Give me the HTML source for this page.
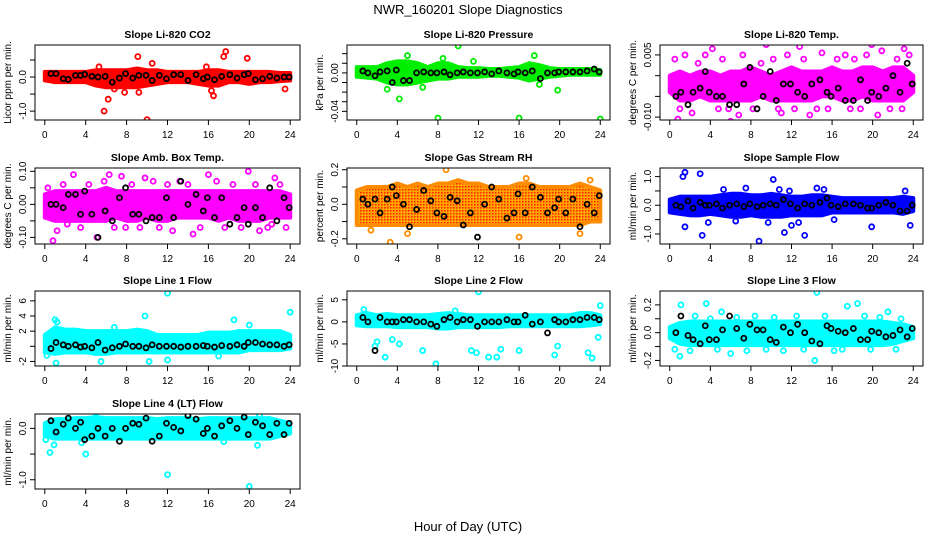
<!DOCTYPE html>
<html><head><meta charset="utf-8"><style>
body{margin:0;background:#fff;}
svg{display:block;font-family:"Liberation Sans",sans-serif;}
</style></head><body>
<svg id="chart" width="936" height="540" viewBox="0 0 936 540" xmlns="http://www.w3.org/2000/svg">
<defs>
<pattern id="rhpat" width="3" height="3" patternUnits="userSpaceOnUse"><rect width="3" height="3" fill="#ffa500"/><rect width="1.5" height="1.5" fill="#ff2000"/></pattern>
</defs>
<text x="468" y="14" text-anchor="middle" font-size="13">NWR_160201  Slope Diagnostics</text>
<text x="468" y="531" text-anchor="middle" font-size="13">Hour of Day (UTC)</text>
</svg>
<script>
const blackHours=[0.6,1.1,1.8,2.3,3.0,3.5,3.9,4.6,5.2,5.9,6.6,7.3,7.9,8.6,9.2,9.9,10.5,11.2,11.9,12.6,13.3,14.0,14.8,15.5,15.9,16.6,17.3,18.1,18.8,19.5,19.9,20.6,21.3,22.0,22.7,23.4,23.9];
const xTicks=[0,4,8,12,16,20,24];

const co2Hi=[0.15,0.15,0.15,0.15,0.15,0.2,0.2,0.2,0.2,0.25,0.2,0.2,0.15,0.15,0.15,0.15,0.2,0.2,0.15,0.15,0.15,0.15,0.15,0.12,0.12];
const co2Lo=[-0.1,-0.15,-0.15,-0.15,-0.15,-0.25,-0.3,-0.3,-0.3,-0.3,-0.25,-0.2,-0.15,-0.15,-0.15,-0.2,-0.25,-0.25,-0.15,-0.15,-0.2,-0.15,-0.15,-0.12,-0.1];
const co2Out=[[5.8,-1.0],[6.2,-0.65],[9.1,0.6],[9.9,1.15],[10.0,-1.25],[9.2,-0.45],[10.5,0.4],[7.8,-0.45],[15.8,0.3],[16.3,-0.4],[16.5,-0.55],[17.5,0.6],[17.7,0.75],[19.8,0.55],[23.5,-0.35],[6.8,-0.35],[5.3,0.3]];
const co2Black=[0.1,0.1,-0.05,-0.07,0.05,0.05,0.08,0.02,0.0,0.02,-0.15,-0.03,0.1,-0.03,0.05,0.05,-0.1,0.05,-0.05,0.07,0.07,-0.1,0.07,-0.05,0.0,-0.08,0.02,0.07,-0.03,0.07,0.1,-0.08,-0.05,0.02,-0.03,0.0,0.0];

const prHi=[0.006,0.006,0.006,0.01,0.012,0.012,0.01,0.006,0.01,0.01,0.006,0.005,0.005,0.004,0.004,0.005,0.006,0.01,0.008,0.005,0.004,0.004,0.004,0.004,0.003];
const prLo=[-0.004,-0.005,-0.006,-0.01,-0.012,-0.012,-0.01,-0.008,-0.006,-0.006,-0.004,-0.004,-0.004,-0.003,-0.003,-0.004,-0.005,-0.008,-0.006,-0.004,-0.003,-0.002,-0.002,-0.002,-0.002];
const prOut=[[10,0.028],[8,-0.047],[16,-0.047],[24,-0.048],[4.2,-0.027],[3,-0.017],[6.5,-0.015],[8.5,0.015],[17.5,0.018],[19.8,-0.018],[5,0.018],[11.5,0.012],[18,-0.012]];
const prBlack=[0.002,0.0,-0.003,0.001,0.002,-0.010,0.003,-0.008,-0.008,0.0,0.001,0.0,0.0,0.001,-0.002,0.0,0.001,0.0,0.0,0.001,-0.001,0.002,0.0,-0.001,0.001,0.0,0.002,-0.006,0.0,0.0,0.001,0.001,0.001,0.001,0.002,0.004,0.001];

const ltHi=[0.0,0.001,0.0,0.001,0.001,0.0,0.001,0.001,0.002,0.001,0.0,0.001,0.002,0.001,0.001,0.001,0.002,0.001,0.001,0.002,0.002,0.001,0.002,0.002,0.0];
const ltLo=[-0.004,-0.006,-0.006,-0.005,-0.006,-0.006,-0.006,-0.006,-0.006,-0.005,-0.006,-0.006,-0.006,-0.006,-0.006,-0.005,-0.005,-0.006,-0.006,-0.005,-0.006,-0.006,-0.006,-0.006,-0.004];
const ltOut=[[0.8,-0.0105],[4.2,0.0065],[6,-0.011],[6.8,-0.0095],[9.5,0.0075],[12.8,0.007],[13.8,-0.0095],[15,0.0055],[19.9,0.0075],[20.5,-0.0095],[23.1,0.0065],[2.2,-0.009],[11,-0.009],[0.5,0.004],[1.5,0.005],[2.8,0.003],[3.5,0.005],[5.2,0.004],[5.8,-0.008],[7.2,0.005],[8.2,-0.008],[9.0,0.003],[10.2,0.004],[11.6,0.005],[12.3,-0.008],[13.2,0.004],[14.5,-0.008],[15.6,-0.008],[16.5,0.004],[17.3,0.005],[18.2,0.004],[18.8,-0.008],[19.4,0.005],[20.9,0.006],[21.7,-0.008],[22.4,0.004],[22.9,-0.008],[23.6,0.005],[1.0,-0.008],[4.8,-0.008],[10.7,-0.008],[17.8,-0.008]];
const ltBlack=[-0.005,-0.004,-0.007,-0.004,-0.003,0.001,-0.004,-0.005,-0.005,-0.007,-0.007,-0.002,0.002,-0.008,-0.005,0.001,-0.006,-0.002,-0.002,-0.004,-0.005,-0.002,-0.001,-0.004,-0.005,-0.003,-0.006,-0.006,-0.001,-0.006,-0.004,-0.005,-0.003,0.0,-0.004,0.003,-0.002];

const abHi=[0.03,0.04,0.04,0.04,0.04,0.04,0.05,0.04,0.04,0.04,0.04,0.04,0.04,0.04,0.04,0.04,0.04,0.04,0.04,0.04,0.04,0.04,0.04,0.04,0.03];
const abLo=[-0.04,-0.05,-0.05,-0.05,-0.05,-0.05,-0.05,-0.04,-0.05,-0.05,-0.04,-0.05,-0.05,-0.04,-0.04,-0.04,-0.04,-0.05,-0.04,-0.05,-0.05,-0.05,-0.04,-0.04,-0.04];
const abOut=[[0.8,-0.11],[1.2,-0.08],[2.8,0.09],[6.3,0.09],[7.5,0.085],[12.5,-0.08],[14.5,-0.09],[16,0.09],[19.9,0.1],[22.5,0.08],[5.1,-0.1],[21,-0.08],[9.8,0.08],[0.3,0.05],[1.8,0.06],[3.5,-0.07],[4.3,0.06],[5.8,0.07],[6.8,-0.07],[8.5,0.06],[9.3,-0.07],[10.6,0.07],[11.2,-0.07],[13.2,0.07],[14.0,0.06],[15.2,-0.07],[16.8,0.07],[17.6,-0.07],[18.4,0.06],[19.2,-0.07],[20.6,0.06],[21.8,-0.07],[23.0,0.06],[23.6,-0.07],[2.2,-0.06],[7.9,-0.07],[12.0,0.06],[22.2,-0.06]];
const abBlack=[0.0,0.0,-0.01,0.03,0.03,-0.03,0.04,-0.03,-0.1,-0.02,-0.05,0.02,0.05,-0.03,-0.03,-0.05,-0.04,-0.04,0.02,-0.04,0.07,0.0,0.03,-0.02,0.02,-0.04,0.02,-0.06,-0.04,-0.01,-0.06,-0.01,-0.04,0.05,-0.05,0.02,-0.01];

const rhHi=[0.08,0.1,0.1,0.1,0.12,0.1,0.12,0.1,0.12,0.12,0.14,0.12,0.12,0.1,0.1,0.1,0.12,0.12,0.1,0.1,0.1,0.1,0.12,0.1,0.08];
const rhLo=[-0.12,-0.12,-0.12,-0.12,-0.12,-0.12,-0.12,-0.12,-0.12,-0.12,-0.12,-0.12,-0.12,-0.12,-0.12,-0.12,-0.12,-0.12,-0.12,-0.12,-0.12,-0.12,-0.12,-0.1,-0.1];
const rhOut=[[3.3,-0.22],[8.8,0.2],[16,-0.19],[22,-0.17],[16.7,0.15],[5,-0.17],[1.4,-0.15],[23,0.14]];
const rhBlack=[0.03,0.0,0.03,-0.05,0.03,0.1,0.05,0.0,-0.13,-0.03,0.08,0.02,-0.05,-0.07,0.04,0.02,-0.12,-0.05,-0.19,0.0,0.1,0.03,-0.08,-0.05,0.06,-0.05,0.1,0.04,-0.05,-0.02,0.03,-0.05,0.03,-0.13,0.0,-0.05,0.05];

const sfHi=[0.2,0.3,0.3,0.3,0.3,0.35,0.4,0.4,0.35,0.35,0.4,0.35,0.3,0.3,0.35,0.35,0.3,0.25,0.25,0.25,0.25,0.25,0.25,0.3,0.25];
const sfLo=[-0.25,-0.3,-0.35,-0.35,-0.3,-0.35,-0.4,-0.4,-0.35,-0.4,-0.4,-0.4,-0.35,-0.35,-0.35,-0.35,-0.25,-0.25,-0.25,-0.25,-0.25,-0.25,-0.25,-0.3,-0.2];
const sfOut=[[1.3,1.0],[1.5,1.15],[3,1.1],[3.2,-1.05],[8.8,-1.25],[10.2,0.9],[11.3,-0.95],[12,-0.7],[13.3,-1.05],[19.9,-0.75],[1.5,-0.75],[3.8,-0.6],[14.5,0.6],[23.7,-0.7],[5.3,0.55],[6.5,-0.55],[7.5,0.6],[9.7,-0.6],[10.8,0.55],[11.8,0.5],[12.7,-0.6],[15.2,0.55],[16.2,-0.5],[23.2,0.5]];
const sfBlack=[0.0,-0.05,0.15,-0.1,0.1,0.0,0.0,0.05,-0.1,0.0,0.05,-0.05,0.05,-0.05,0.0,0.05,0.0,0.2,0.05,-0.1,0.05,0.0,0.1,0.25,0.0,-0.05,0.05,0.05,0.0,-0.1,-0.1,0.0,0.1,0.0,-0.2,-0.2,0.0];

const l1Hi=[1.5,2.5,2.2,2.2,2.0,2.0,2.0,2.0,2.0,2.2,2.0,1.5,1.5,1.5,1.5,1.5,1.8,1.8,1.8,2.0,2.0,2.0,2.0,2.0,1.5];
const l1Lo=[-0.8,-1.0,-0.8,-0.8,-0.8,-1.0,-1.0,-0.8,-0.8,-0.8,-0.8,-0.8,-0.8,-0.8,-0.8,-0.8,-0.8,-0.8,-0.8,-0.8,-0.5,-0.5,-0.5,-0.5,-0.3];
const l1Out=[[12,7.0],[24,4.5],[1,3.5],[1.2,3.2],[9.8,4.0],[18.5,3.5],[1.1,-2.2],[5.5,-2.0],[10.2,-2.0],[12,-1.8],[0.2,-1.2],[6.8,2.5],[20,2.8],[17,-1.3]];
const l1Black=[-0.3,0.5,0.2,0.0,0.2,-0.1,0.0,-0.2,0.5,-0.5,-0.2,0.0,0.3,0.0,0.0,-0.2,0.2,0.0,0.0,0.0,-0.1,0.0,0.0,0.1,0.0,-0.1,0.1,0.0,0.2,0.0,0.5,0.5,0.3,0.2,0.2,0.0,0.2];

const l2Hi=[1.5,2.0,1.5,1.8,1.5,1.5,1.5,1.5,1.8,2.0,1.8,1.5,1.5,1.5,1.5,1.5,1.5,1.5,1.5,1.5,1.5,1.5,2.0,2.0,1.5];
const l2Lo=[-0.8,-1.0,-1.0,-1.0,-1.2,-1.2,-1.2,-1.2,-1.5,-1.5,-1.2,-1.2,-1.2,-1.2,-1.2,-1.0,-1.0,-1.0,-1.0,-1.0,-1.0,-1.0,-1.0,-0.8,-0.5];
const l2Out=[[0.7,2.8],[7.8,-9.5],[12,6.8],[2.0,-4.5],[1.8,-5.5],[2.8,-8.0],[3.5,-4.0],[4.2,-5.0],[6.5,-6.5],[11.3,-6.5],[11.8,-7.0],[13,-8.0],[13.8,-8.0],[14.2,-6.2],[16,-6.5],[19.5,-7.5],[19.8,-5.5],[22.8,-7.0],[23.2,-8.2],[23.8,-3.5],[24,3.7],[9.7,2.5]];
const l2Black=[1,0,-6.5,1,0,0,0,0.5,0.5,0,0,-0.5,-1,0.5,1,0,0.5,0.5,-1,0,0,0,0.5,0,0,1.5,-0.5,0,-2.5,0.5,0,0,0.5,0.5,1,1,0.5];

const l3Hi=[0.04,0.07,0.08,0.08,0.08,0.08,0.08,0.08,0.08,0.08,0.08,0.08,0.08,0.08,0.08,0.08,0.08,0.08,0.08,0.08,0.08,0.08,0.07,0.06,0.04];
const l3Lo=[-0.04,-0.08,-0.09,-0.09,-0.09,-0.09,-0.09,-0.09,-0.09,-0.09,-0.09,-0.09,-0.09,-0.09,-0.09,-0.09,-0.09,-0.09,-0.09,-0.09,-0.09,-0.09,-0.08,-0.06,-0.04];
const l3Out=[[1.1,0.2],[3.6,0.21],[14.5,0.29],[14.3,-0.2],[18.5,0.21],[0.5,-0.12],[1,-0.17],[5.1,0.15],[21.5,0.15],[17.5,0.19],[4,0.1],[6,-0.15],[2.5,0.12],[2.0,-0.13],[4.7,-0.12],[6.6,0.11],[7.6,-0.13],[8.4,0.12],[9.5,-0.12],[10.3,0.11],[11.2,-0.13],[12.5,0.12],[13.2,-0.12],[15.3,0.12],[16.2,-0.13],[17.0,-0.12],[19.2,0.12],[19.8,-0.12],[20.7,0.11],[22.3,-0.12],[22.8,0.1]];
const l3Black=[0.0,0.12,-0.02,-0.05,-0.08,0.05,-0.05,-0.05,0.02,0.12,0.03,-0.04,0.06,0.02,0.02,-0.05,-0.07,0.04,0.0,0.06,0.0,-0.06,-0.08,0.05,0.03,0.01,0.0,0.03,-0.05,-0.05,0.01,0.0,-0.03,-0.02,0.02,-0.03,0.03];

const l4Hi=[0.1,0.18,0.18,0.2,0.2,0.22,0.2,0.2,0.2,0.2,0.2,0.18,0.2,0.2,0.2,0.18,0.2,0.2,0.2,0.2,0.2,0.2,0.2,0.15,0.1];
const l4Lo=[-0.15,-0.2,-0.2,-0.2,-0.2,-0.2,-0.2,-0.2,-0.2,-0.2,-0.2,-0.2,-0.2,-0.2,-0.2,-0.2,-0.2,-0.2,-0.2,-0.2,-0.2,-0.2,-0.2,-0.15,-0.1];
const l4Out=[[0.1,-0.22],[0.5,-0.47],[0.9,-0.32],[4,-0.5],[5,0.3],[12,-0.9],[13.4,0.33],[20,-1.13],[20.8,-0.33],[21,0.25],[3.6,-0.28],[17.5,-0.26]];
const l4Black=[0.15,-0.07,0.08,0.2,0.0,0.12,-0.22,-0.15,0.0,-0.15,0.0,-0.25,0.0,0.1,0.08,0.2,-0.25,-0.15,0.1,0.02,-0.05,0.25,0.18,-0.1,0.0,-0.15,0.05,0.15,0.0,0.22,-0.12,0.12,0.05,-0.12,0.1,-0.12,0.1];

const NS='http://www.w3.org/2000/svg';
const svg=document.getElementById('chart');
const cols=[[35,300],[347,610],[660,923]];
const rows=[[45,120],[168,244],[291,366],[414,489]];

const panels=[
 {title:'Slope Li-820 CO2',ylab:'Licor ppm per min.',col:0,row:0,ymin:-1.26,ymax:0.94,ticks:[-1,-0.5,0,0.5],labels:{'-1':'-1.0','0':'0.0'},color:'#ff0000',hi:co2Hi,lo:co2Lo,out:co2Out,blk:co2Black},
 {title:'Slope Li-820 Pressure',ylab:'kPa per min.',col:1,row:0,ymin:-0.049,ymax:0.029,ticks:[-0.04,-0.03,-0.02,-0.01,0,0.01,0.02],labels:{'0':'0.00','-0.04':'-0.04'},color:'#00ee00',hi:prHi,lo:prLo,out:prOut,blk:prBlack},
 {title:'Slope Li-820 Temp.',ylab:'degrees C per min.',col:2,row:0,ymin:-0.0107,ymax:0.0074,ticks:[-0.01,-0.005,0,0.005],labels:{'0.005':'0.005','-0.01':'-0.010'},color:'#ff00ff',hi:ltHi,lo:ltLo,out:ltOut,blk:ltBlack},
 {title:'Slope Amb. Box Temp.',ylab:'degrees C per min.',col:0,row:1,ymin:-0.12,ymax:0.11,ticks:[-0.1,-0.05,0,0.05,0.1],labels:{'0.1':'0.10','0':'0.00','-0.1':'-0.10'},color:'#ff00ff',hi:abHi,lo:abLo,out:abOut,blk:abBlack},
 {title:'Slope Gas Stream RH',ylab:'percent per min.',col:1,row:1,ymin:-0.23,ymax:0.21,ticks:[-0.2,-0.1,0,0.1,0.2],labels:{'0.2':'0.2','0':'0.0','-0.2':'-0.2'},color:'url(#rhpat)',pt:'#ff8c00',hi:rhHi,lo:rhLo,out:rhOut,blk:rhBlack},
 {title:'Slope Sample Flow',ylab:'ml/min per min.',col:2,row:1,ymin:-1.35,ymax:1.3,ticks:[-1,-0.5,0,0.5,1],labels:{'1':'1.0','0':'0.0','-1':'-1.0'},color:'#0000ff',hi:sfHi,lo:sfLo,out:sfOut,blk:sfBlack},
 {title:'Slope Line 1 Flow',ylab:'ml/min per min.',col:0,row:2,ymin:-2.6,ymax:7.3,ticks:[-2,0,2,4,6],labels:{'-2':'-2','2':'2','4':'4','6':'6'},color:'#00ffff',hi:l1Hi,lo:l1Lo,out:l1Out,blk:l1Black},
 {title:'Slope Line 2 Flow',ylab:'ml/min per min.',col:1,row:2,ymin:-10,ymax:7,ticks:[-10,-5,0,5],labels:{'-10':'-10','-5':'-5','0':'0','5':'5'},color:'#00ffff',hi:l2Hi,lo:l2Lo,out:l2Out,blk:l2Black},
 {title:'Slope Line 3 Flow',ylab:'ml/min per min.',col:2,row:2,ymin:-0.24,ymax:0.3,ticks:[-0.2,-0.1,0,0.1,0.2],labels:{'0.2':'0.2','0':'0.0','-0.2':'-0.2'},color:'#00ffff',hi:l3Hi,lo:l3Lo,out:l3Out,blk:l3Black},
 {title:'Slope Line 4 (LT) Flow',ylab:'ml/min per min.',col:0,row:3,ymin:-1.18,ymax:0.28,ticks:[-1,-0.5,0],labels:{'0':'0.0','-1':'-1.0'},color:'#00ffff',hi:l4Hi,lo:l4Lo,out:l4Out,blk:l4Black}
];

function mk(tag,attrs,parent){const e=document.createElementNS(NS,tag);for(const k in attrs)e.setAttribute(k,attrs[k]);(parent||svg).appendChild(e);return e;}

panels.forEach((p,i)=>{
 const [x0,x1]=cols[p.col],[y0,y1]=rows[p.row];
 const g=mk('g',{});
 
 
 const xs=h=>x0+(h+0.96)/25.92*(x1-x0);
 const ys=v=>y1-(v-p.ymin)/(p.ymax-p.ymin)*(y1-y0);
 const cp=mk('clipPath',{id:'cp'+i},g);mk('rect',{x:x0,y:y0,width:x1-x0,height:y1-y0},cp);
 const pg=mk('g',{'clip-path':'url(#cp'+i+')'},g);
 let pts=[];p.hi.forEach((v,h)=>pts.push(xs(h)+','+ys(v)));
 for(let h=p.lo.length-1;h>=0;h--)pts.push(xs(h)+','+ys(p.lo[h]));
 const band=mk('polygon',{points:pts.join(' '),fill:p.color,stroke:p.pt||p.color,'stroke-width':4,'stroke-linejoin':'round'},pg);
 
 
 p.out.forEach(o=>{const c=mk('circle',{cx:xs(o[0]),cy:ys(o[1]),r:2.5,fill:'none',stroke:p.pt||p.color,'stroke-width':1.8},pg);
  
  });
 p.blk.forEach((v,k)=>{const c=mk('circle',{cx:xs(blackHours[k]),cy:ys(v),r:2.5,fill:'none',stroke:'#000','stroke-width':1.8},pg);
  
  });
 const box=mk('rect',{x:x0,y:y0,width:x1-x0,height:y1-y0,fill:'none',stroke:'#000','stroke-width':1},g);
 
 
 const t=mk('text',{x:(x0+x1)/2,y:y0-7,'text-anchor':'middle','font-size':10.5,'font-weight':'bold'},g);t.textContent=p.title;
 
 
 xTicks.forEach(h=>{const X=xs(h);mk('line',{x1:X,x2:X,y1:y1,y2:y1+5,stroke:'#000'},g);
  const tl=mk('text',{x:X,y:y1+18,'text-anchor':'middle','font-size':10},g);tl.textContent=h;
  
  });
 p.ticks.forEach(v=>{const Y=ys(v);mk('line',{x1:x0-5,x2:x0,y1:Y,y2:Y,stroke:'#000'},g);
  const key=String(v);if(p.labels[key]!==undefined){const tl=mk('text',{x:x0-9,y:Y,'text-anchor':'middle','font-size':10,transform:'rotate(-90 '+(x0-9)+' '+Y+')'},g);tl.textContent=p.labels[key];
  
  }});
 const yl=mk('text',{x:x0-24,y:(y0+y1)/2,'text-anchor':'middle','font-size':10,transform:'rotate(-90 '+(x0-24)+' '+((y0+y1)/2)+')'},g);yl.textContent=p.ylab;
 
 
});
</script>
</body></html>
